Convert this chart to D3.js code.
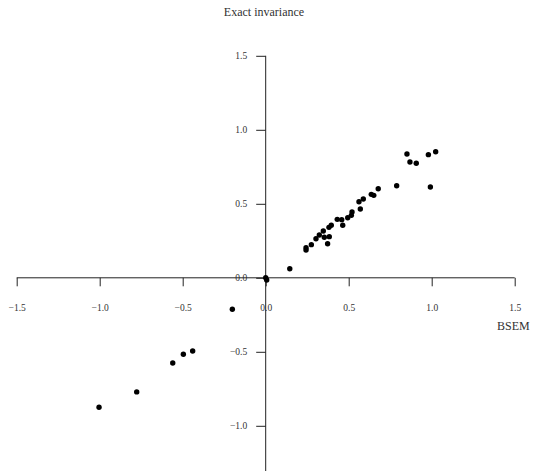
<!DOCTYPE html>
<html>
<head>
<meta charset="utf-8">
<script src="https://cdn.jsdelivr.net/npm/d3@7"></script>
<style>
  html, body { margin: 0; padding: 0; background: #fff; }
  svg text { font-family: 'Liberation Serif', 'Times New Roman', serif; fill: #333; }
</style>
</head>
<body>
<div id="chart"></div>
<script>
// BSEM estimates (x) vs exact invariance estimates (y)
const bsem = [
  0.851, 0.980, 1.024, 0.869, 0.907, 0.789, 0.992, 0.678, 0.636, 0.651,
  0.588, 0.562, 0.570, 0.520, 0.516, 0.494, 0.431, 0.458, 0.464, 0.395,
  0.381, 0.347, 0.323, 0.353, 0.383, 0.303, 0.373, 0.275, 0.243, 0.243,
  0.145, 0.000, 0.006, -0.201, -0.496, -0.440, -0.560, -0.777, -1.004,
]
const exact = [
  0.836, 0.832, 0.852, 0.782, 0.774, 0.622, 0.614, 0.602, 0.564, 0.557,
  0.532, 0.514, 0.465, 0.445, 0.422, 0.406, 0.395, 0.393, 0.355, 0.355,
  0.341, 0.316, 0.289, 0.274, 0.278, 0.264, 0.230, 0.224, 0.203, 0.188,
  0.061, 0.000, -0.015, -0.213, -0.517, -0.495, -0.576, -0.771, -0.875,
]
const xTicks = [-1.5, -1.0, -0.5, 0.0, 0.5, 1.0, 1.5]
const yTicks = [-1.0, -0.5, 0.0, 0.5, 1.0, 1.5]

const width = 534
const height = 471

const x = d3.scaleLinear().domain([-1.5, 1.5]).range([16.7, 514.7])
const y = d3.scaleLinear().domain([0, 1.5]).range([277.8, 55.8])

const svg = d3.select('#chart')
  .append('svg')
  .attr('width', width)
  .attr('height', height)

const fmt = d => d3.format('.1f')(d).replace('-', '\u2212')

// x axis through y = 0
const xAxis = svg.append('g')
  .attr('transform', `translate(0, ${y(0)})`)
  .call(d3.axisBottom(x).tickValues(xTicks).tickFormat(fmt).tickSize(8.5).tickPadding(18))
xAxis.select('.domain').attr('stroke', '#222').attr('d', `M${x(-1.5)},0H${x(1.5)}`)
xAxis.selectAll('.tick line').attr('stroke', '#222')
xAxis.selectAll('text').attr('font-size', 9.5).style('fill', '#333')
  .attr('font-family', "'Liberation Serif', serif")

// y axis through x = 0
const yAxis = svg.append('g')
  .attr('transform', `translate(${x(0)}, 0)`)
  .call(d3.axisLeft(y).tickValues(yTicks).tickFormat(fmt).tickSize(9.5).tickPadding(9))
yAxis.select('.domain').attr('stroke', '#222').attr('d', `M0,${y(1.5)}V${height + 2}`)
yAxis.selectAll('.tick line').attr('stroke', '#222')
yAxis.selectAll('text').attr('font-size', 9.5).style('fill', '#333')
  .attr('font-family', "'Liberation Serif', serif")

// points
svg.append('g')
  .selectAll('circle')
  .data(bsem.map((d, i) => [d, exact[i]]))
  .join('circle')
  .attr('cx', d => x(d[0]))
  .attr('cy', d => y(d[1]))
  .attr('r', 2.7)
  .attr('fill', '#000')

// labels
svg.append('text')
  .attr('x', 264)
  .attr('y', 16)
  .attr('text-anchor', 'middle')
  .attr('font-size', 12)
  .text('Exact invariance')

svg.append('text')
  .attr('x', 497)
  .attr('y', 330)
  .attr('font-size', 12)
  .text('BSEM')
</script>
</body>
</html>
